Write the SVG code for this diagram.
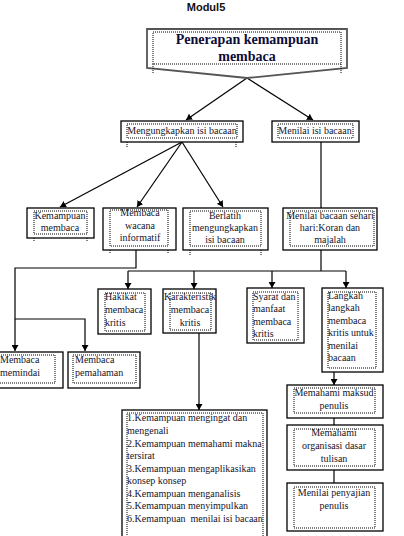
<svg xmlns="http://www.w3.org/2000/svg" width="404" height="536" viewBox="0 0 404 536">
<style>
.box{fill:#fff;stroke:#000;stroke-width:1.3}
.dot{fill:none;stroke:#000;stroke-width:1;stroke-dasharray:1 1}
.t{font-family:"Liberation Serif",serif;font-size:10px;fill:#14142a}
.c{text-anchor:middle}
.ln{fill:none;stroke:#000;stroke-width:1.2}
</style>
<defs>
<marker id="arr" markerWidth="6" markerHeight="7" refX="6" refY="3.5" orient="auto" markerUnits="userSpaceOnUse" viewBox="0 0 6 7">
<path d="M0,0 L6,3.5 L0,7 Z" fill="#000"/>
</marker>
</defs>
<text x="206" y="11" text-anchor="middle" font-family="Liberation Sans, sans-serif" font-weight="bold" font-size="11" fill="#111">Modul5</text>

<g id="connectors">
<line class="ln" x1="247" y1="78" x2="186" y2="120" marker-end="url(#arr)"/>
<line class="ln" x1="247" y1="78" x2="313" y2="120" marker-end="url(#arr)"/>
<line class="ln" x1="182" y1="142" x2="60" y2="207" marker-end="url(#arr)"/>
<line class="ln" x1="182" y1="142" x2="137" y2="207" marker-end="url(#arr)"/>
<line class="ln" x1="182" y1="142" x2="223" y2="207" marker-end="url(#arr)"/>
<line class="ln" x1="321" y1="142" x2="321" y2="208"/>
<polyline class="ln" points="136,250 136,268 15,268 15,351" marker-end="url(#arr)"/>
<polyline class="ln" points="15,319 85,319 85,351" marker-end="url(#arr)"/>
<line class="ln" x1="321" y1="250" x2="321" y2="271"/>
<line class="ln" x1="128" y1="271" x2="346" y2="271"/>
<line class="ln" x1="128" y1="271" x2="128" y2="289" marker-end="url(#arr)"/>
<line class="ln" x1="194" y1="271" x2="194" y2="289" marker-end="url(#arr)"/>
<line class="ln" x1="272" y1="271" x2="272" y2="288" marker-end="url(#arr)"/>
<line class="ln" x1="346" y1="271" x2="346" y2="288" marker-end="url(#arr)"/>
<line class="ln" x1="199" y1="333" x2="199" y2="410" marker-end="url(#arr)"/>
<line class="ln" x1="334" y1="372" x2="334" y2="385" marker-end="url(#arr)"/>
<line class="ln" x1="334" y1="418" x2="334" y2="425"/>
<line class="ln" x1="334" y1="470" x2="334" y2="483"/>
</g>

<g id="n-root">
<polygon points="147,29 347,29 347,68 247,78 147,68" fill="#fff" stroke="#555" stroke-width="1.8"/>
<rect class="dot" x="153" y="32" width="188" height="32"/>
<line class="dot" x1="153" y1="64" x2="153" y2="74"/>
<line class="dot" x1="341" y1="64" x2="341" y2="74"/>
<text x="247" y="44" text-anchor="middle" font-family="Liberation Serif, serif" font-weight="bold" font-size="14" fill="#0c0c3a">Penerapan kemampuan</text>
<text x="247" y="61" text-anchor="middle" font-family="Liberation Serif, serif" font-weight="bold" font-size="14" fill="#0c0c3a">membaca</text>
</g>

<g id="n-mengungkapkan">
<rect class="box" x="121" y="121" width="122" height="21"/>
<rect class="dot" x="127" y="124" width="110" height="14"/>
<line class="dot" x1="127" y1="142" x2="127" y2="148"/>
<line class="dot" x1="236" y1="142" x2="236" y2="148"/>
<text class="t c" x="182" y="134">Mengungkapkan isi bacaan</text>
</g>

<g id="n-menilai">
<rect class="box" x="272" y="121" width="87" height="21"/>
<rect class="dot" x="278" y="124" width="75" height="14"/>
<text class="t c" x="315" y="134">Menilai isi bacaan</text>
</g>

<g id="n-kemampuan">
<rect class="box" x="27" y="208" width="67" height="30"/>
<rect class="dot" x="34" y="211" width="53" height="23"/>
<line class="dot" x1="34" y1="238" x2="34" y2="242"/>
<line class="dot" x1="87" y1="238" x2="87" y2="242"/>
<text class="t c" x="60" y="219">Kemampuan</text>
<text class="t c" x="60" y="231">membaca</text>
</g>

<g id="n-wacana">
<rect class="box" x="103" y="208" width="73" height="42"/>
<rect class="dot" x="110" y="210" width="58" height="36"/>
<line class="dot" x1="110" y1="250" x2="110" y2="254"/>
<line class="dot" x1="168" y1="250" x2="168" y2="254"/>
<text class="t c" x="140" y="216">Membaca</text>
<text class="t c" x="140" y="229">wacana</text>
<text class="t c" x="140" y="241">informatif</text>
</g>

<g id="n-berlatih">
<rect class="box" x="183" y="208" width="85" height="42"/>
<rect class="dot" x="190" y="211" width="71" height="35"/>
<line class="dot" x1="190" y1="250" x2="190" y2="255"/>
<line class="dot" x1="261" y1="250" x2="261" y2="255"/>
<text class="t c" x="225" y="219">Berlatih</text>
<text class="t c" x="225" y="231">mengungkapkan</text>
<text class="t c" x="225" y="243">isi bacaan</text>
</g>

<g id="n-sehari">
<rect class="box" x="283" y="208" width="94" height="42"/>
<rect class="dot" x="290" y="211" width="84" height="35"/>
<text class="t c" x="330" y="219">Menilai bacaan sehari</text>
<text class="t c" x="330" y="231">hari:Koran dan</text>
<text class="t c" x="330" y="243">majalah</text>
</g>

<g id="n-hakikat">
<rect class="box" x="98" y="289" width="53" height="45"/>
<rect class="dot" x="105" y="293" width="40" height="38"/>
<text class="t" x="105" y="300">Hakikat</text>
<text class="t" x="105" y="313">membaca</text>
<text class="t" x="105" y="326">kritis</text>
</g>

<g id="n-karakteristik">
<rect class="box" x="163" y="289" width="53" height="44"/>
<rect class="dot" x="170" y="293" width="41" height="37"/>
<text class="t c" x="190" y="300">Karakteristik</text>
<text class="t c" x="190" y="313">membaca</text>
<text class="t c" x="190" y="326">kritis</text>
</g>

<g id="n-syarat">
<rect class="box" x="247" y="288" width="57" height="55"/>
<rect class="dot" x="253" y="292" width="45" height="48"/>
<text class="t" x="253" y="300">Syarat dan</text>
<text class="t" x="253" y="312">manfaat</text>
<text class="t" x="253" y="325">membaca</text>
<text class="t" x="253" y="337">kritis</text>
</g>

<g id="n-langkah">
<rect class="box" x="322" y="288" width="61" height="84"/>
<rect class="dot" x="328" y="292" width="48" height="76"/>
<text class="t" x="328" y="299">Langkah</text>
<text class="t" x="328" y="311">langkah</text>
<text class="t" x="328" y="324">membaca</text>
<text class="t" x="328" y="336">kritis untuk</text>
<text class="t" x="328" y="349">menilai</text>
<text class="t" x="328" y="361">bacaan</text>
</g>

<g id="n-memindai">
<rect class="box" x="-2" y="352" width="65" height="36"/>
<rect class="dot" x="-1" y="355" width="56" height="28"/>
<text class="t" x="0" y="363">Membaca</text>
<text class="t" x="0" y="376">memindai</text>
</g>

<g id="n-pemahaman">
<rect class="box" x="68" y="352" width="72" height="36"/>
<rect class="dot" x="73" y="355" width="63" height="28"/>
<text class="t" x="75" y="363">Membaca</text>
<text class="t" x="75" y="376">pemahaman</text>
</g>

<g id="n-list">
<rect class="box" x="122" y="410" width="145" height="130"/>
<rect class="dot" x="127" y="413" width="136" height="125"/>
<text class="t" x="127" y="421">1.Kemampuan mengingat dan</text>
<text class="t" x="127" y="434">mengenali</text>
<text class="t" x="127" y="447">2.Kemampuan memahami makna</text>
<text class="t" x="127" y="459">tersirat</text>
<text class="t" x="127" y="472">3.Kemampuan mengaplikasikan</text>
<text class="t" x="127" y="484">konsep konsep</text>
<text class="t" x="127" y="497">4.Kemampuan menganalisis</text>
<text class="t" x="127" y="509">5.Kemampuan menyimpulkan</text>
<text class="t" x="127" y="522" xml:space="preserve">6.Kemampuan  menilai isi bacaan</text>
</g>

<g id="n-maksud">
<rect class="box" x="287" y="385" width="96" height="33"/>
<rect class="dot" x="294" y="388" width="81" height="25"/>
<text class="t c" x="334" y="396">Memahami maksud</text>
<text class="t c" x="334" y="409">penulis</text>
</g>

<g id="n-organisasi">
<rect class="box" x="287" y="425" width="96" height="45"/>
<rect class="dot" x="294" y="429" width="81" height="37"/>
<text class="t c" x="334" y="436">Memahami</text>
<text class="t c" x="334" y="449">organisasi dasar</text>
<text class="t c" x="334" y="462">tulisan</text>
</g>

<g id="n-penyajian">
<rect class="box" x="287" y="483" width="96" height="48"/>
<rect class="dot" x="294" y="487" width="81" height="41"/>
<text class="t c" x="334" y="496">Menilai penyajian</text>
<text class="t c" x="334" y="509">penulis</text>
</g>
</svg>
